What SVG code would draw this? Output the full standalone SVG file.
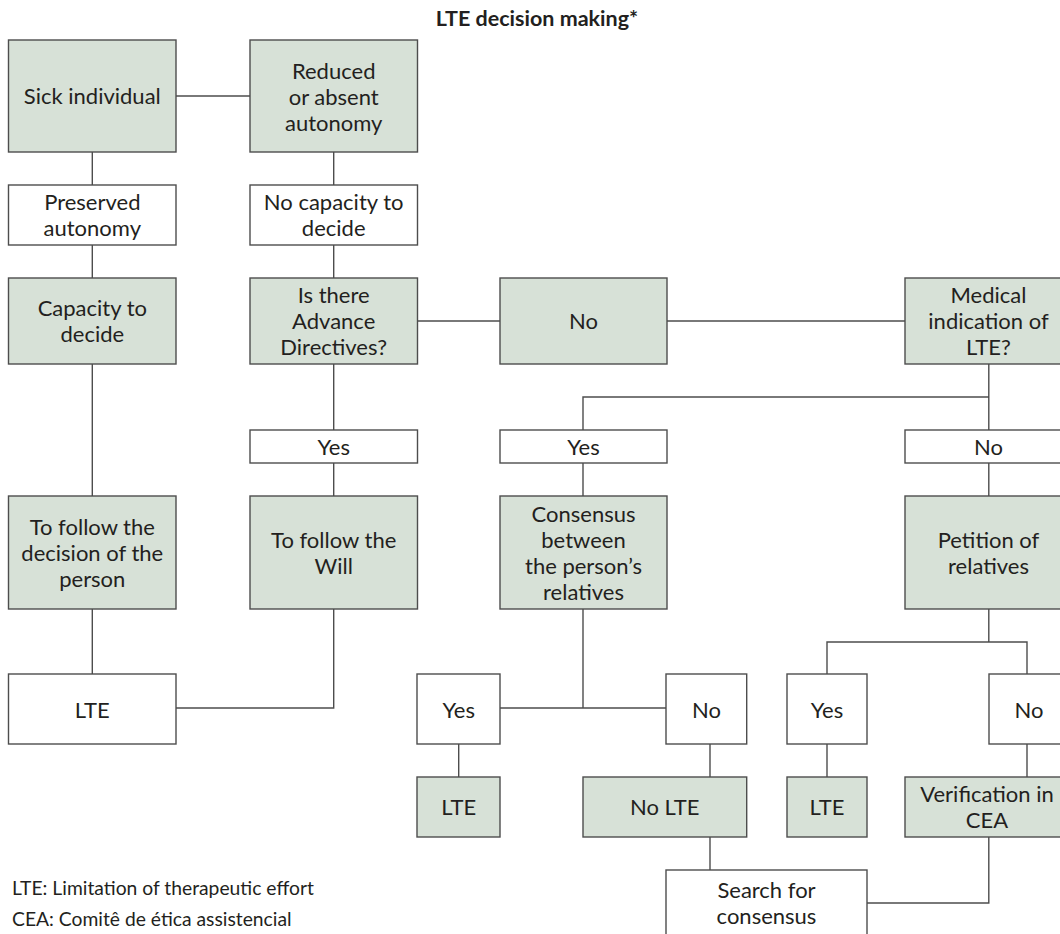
<svg xmlns="http://www.w3.org/2000/svg" width="1060" height="934" viewBox="0 0 1060 934">
<style>
  .g rect { fill: #d7e1d7; stroke: #4d4d4d; stroke-width: 1.4; }
  .w rect { fill: #ffffff; stroke: #4d4d4d; stroke-width: 1.4; }
  text { font-family: Lato, "Liberation Sans", sans-serif; font-size: 22px; fill: #231f20; text-anchor: middle; }
  .title { font-weight: bold; font-size: 21.5px; }
  .legend { font-size: 19.3px; text-anchor: start; }
  #connectors path { fill: none; stroke: #4d4d4d; stroke-width: 1.4; }
</style>
<rect width="1060" height="934" fill="#ffffff"/>
<text class="title" x="537" y="26">LTE decision making*</text>

<g id="connectors">
  <path d="M176 96 H250"/>
  <path d="M92.3 152 V185 M92.3 245 V278 M92.3 364 V496 M92.3 609 V674"/>
  <path d="M333.7 152 V185 M333.7 245 V278 M333.7 364 V430 M333.7 463 V496 M333.7 609 V708 H176"/>
  <path d="M417.5 321 H500 M667 321 H905"/>
  <path d="M988.8 364 V430 M988.8 397 H583 V430"/>
  <path d="M583 463 V496 M583 609 V708 M500 708 H666"/>
  <path d="M988.8 463 V496 M988.8 609 V642 M827 674 V642 H1027 V674"/>
  <path d="M458.7 744 V777 M710 744 V777 M710 837 V870 M827 744 V777 M1027 744 V777"/>
  <path d="M867 903 H988.8 V837"/>
</g>

<g id="n-sick" class="g"><rect x="8.5" y="40" width="167.5" height="112"/><text x="92.3" y="104">Sick individual</text></g>
<g id="n-reduced" class="g"><rect x="250" y="40" width="167.5" height="112"/><text x="333.7" y="79">Reduced</text><text x="333.7" y="105">or absent</text><text x="333.7" y="131">autonomy</text></g>
<g id="n-preserved" class="w"><rect x="8.5" y="185" width="167.5" height="60"/><text x="92.3" y="210">Preserved</text><text x="92.3" y="236">autonomy</text></g>
<g id="n-nocapacity" class="w"><rect x="250" y="185" width="167.5" height="60"/><text x="333.7" y="210">No capacity to</text><text x="333.7" y="236">decide</text></g>
<g id="n-capacity" class="g"><rect x="8.5" y="278" width="167.5" height="86"/><text x="92.3" y="316">Capacity to</text><text x="92.3" y="342">decide</text></g>
<g id="n-advance" class="g"><rect x="250" y="278" width="167.5" height="86"/><text x="333.7" y="303">Is there</text><text x="333.7" y="329">Advance</text><text x="333.7" y="355">Directives?</text></g>
<g id="n-no-ad" class="g"><rect x="500" y="278" width="167" height="86"/><text x="583.5" y="329">No</text></g>
<g id="n-medical" class="g"><rect x="905" y="278" width="167" height="86"/><text x="988.5" y="303">Medical</text><text x="988.5" y="329">indication of</text><text x="988.5" y="355">LTE?</text></g>
<g id="n-yes-ad" class="w"><rect x="250" y="430" width="167.5" height="33"/><text x="333.7" y="455">Yes</text></g>
<g id="n-yes-med" class="w"><rect x="500" y="430" width="167" height="33"/><text x="583.5" y="455">Yes</text></g>
<g id="n-no-med" class="w"><rect x="905" y="430" width="167" height="33"/><text x="988.5" y="455">No</text></g>
<g id="n-follow-decision" class="g"><rect x="8.5" y="496" width="167.5" height="113"/><text x="92.3" y="534.5">To follow the</text><text x="92.3" y="560.5">decision of the</text><text x="92.3" y="586.5">person</text></g>
<g id="n-follow-will" class="g"><rect x="250" y="496" width="167.5" height="113"/><text x="333.7" y="547.5">To follow the</text><text x="333.7" y="573.5">Will</text></g>
<g id="n-consensus" class="g"><rect x="500" y="496" width="167" height="113"/><text x="583.5" y="521.5">Consensus</text><text x="583.5" y="547.5">between</text><text x="583.5" y="573.5">the person’s</text><text x="583.5" y="599.5">relatives</text></g>
<g id="n-petition" class="g"><rect x="905" y="496" width="167" height="113"/><text x="988.5" y="547.5">Petition of</text><text x="988.5" y="573.5">relatives</text></g>
<g id="n-lte-left" class="w"><rect x="8.5" y="674" width="167.5" height="70"/><text x="92.3" y="718">LTE</text></g>
<g id="n-yes-cons" class="w"><rect x="417" y="674" width="83" height="70"/><text x="458.7" y="718">Yes</text></g>
<g id="n-no-cons" class="w"><rect x="666" y="674" width="80.7" height="70"/><text x="706.5" y="718">No</text></g>
<g id="n-yes-pet" class="w"><rect x="787" y="674" width="80" height="70"/><text x="827" y="718">Yes</text></g>
<g id="n-no-pet" class="w"><rect x="989" y="674" width="80" height="70"/><text x="1029" y="718">No</text></g>
<g id="n-lte-cons" class="g"><rect x="417" y="777" width="83" height="60"/><text x="458.7" y="815">LTE</text></g>
<g id="n-nolte" class="g"><rect x="583" y="777" width="163.7" height="60"/><text x="664.8" y="815">No LTE</text></g>
<g id="n-lte-pet" class="g"><rect x="787" y="777" width="80" height="60"/><text x="827" y="815">LTE</text></g>
<g id="n-verification" class="g"><rect x="905" y="777" width="167" height="60"/><text x="987" y="802">Verification in</text><text x="987" y="828">CEA</text></g>
<g id="n-search" class="w"><rect x="666" y="870" width="201" height="72"/><text x="766.5" y="898">Search for</text><text x="766.5" y="924">consensus</text></g>

<text class="legend" x="12" y="895">LTE: Limitation of therapeutic effort</text>
<text class="legend" x="12" y="926">CEA: Comitê de ética assistencial</text>
</svg>
